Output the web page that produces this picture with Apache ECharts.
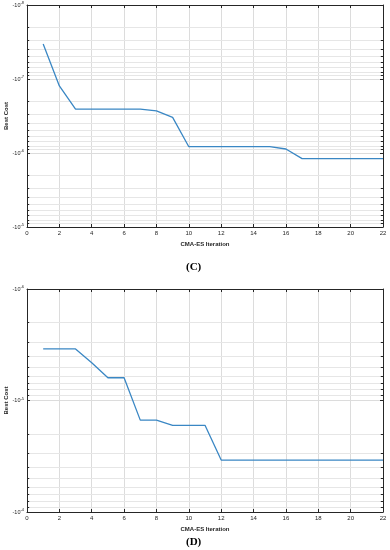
<!DOCTYPE html>
<html>
<head>
<meta charset="utf-8">
<script src="https://cdn.jsdelivr.net/npm/echarts@6/dist/echarts.min.js"></script>
<style>
html,body{margin:0;padding:0;background:#fff;}
#chart{width:390px;height:550px;}
</style>
</head>
<body>
<div id="chart"></div>
<script>
// ---- data ----
const iterations = [1,2,3,4,5,6,7,8,9,10,11,12,13,14,15,16,17,18,19,20,21,22];
// Best cost per iteration (negative values), panel C
const bestCostC = [-3.37e-8,-1.24e-7,-2.56e-7,-2.56e-7,-2.56e-7,-2.56e-7,-2.56e-7,-2.70e-7,-3.30e-7,-8.22e-7,-8.22e-7,-8.22e-7,-8.22e-7,-8.22e-7,-8.22e-7,-8.83e-7,-1.19e-6,-1.19e-6,-1.19e-6,-1.19e-6,-1.19e-6,-1.19e-6];
// Best cost per iteration (negative values), panel D
const bestCostD = [-3.45e-6,-3.45e-6,-3.45e-6,-4.58e-6,-6.25e-6,-6.25e-6,-1.50e-5,-1.50e-5,-1.67e-5,-1.67e-5,-1.67e-5,-3.42e-5,-3.42e-5,-3.42e-5,-3.42e-5,-3.42e-5,-3.42e-5,-3.42e-5,-3.42e-5,-3.42e-5,-3.42e-5,-3.42e-5];
const xTicks = [0,22,2];             // min, max, interval
const yRangeC = [1e-8, 1e-5];        // magnitude range, axis shows -10^k
const yRangeD = [1e-6, 1e-4];
const panelLabels = ['(C)', '(D)'];
const xName = 'CMA-ES Iteration';
const yName = 'Best Cost';

// ---- styles ----
const axisColor = '#262626';
const gridColor = '#dcdcdc';
const minorColor = '#e6e6e6';
const lineColor = '#3a87c4';
const font = 'Liberation Sans, Arial, sans-serif';

const grids = [
  {left: 27, top: 5, width: 356, height: 222},
  {left: 27, top: 289, width: 356, height: 223}
];

function minorValues(range) {
  const out = [];
  const e0 = Math.round(Math.log10(range[0])), e1 = Math.round(Math.log10(range[1]));
  for (let e = e0; e < e1; e++) for (let m = 2; m <= 9; m++) out.push(m * Math.pow(10, e));
  return out;
}

function yLabel(v) {
  const e = Math.round(Math.log10(v));
  return '-10{s|' + e + '}';
}

const xAxes = [], yAxes = [], series = [];
[yRangeC, yRangeD].forEach((yr, i) => {
  xAxes.push({
    type: 'value', gridIndex: i, min: xTicks[0], max: xTicks[1], interval: xTicks[2],
    name: xName, nameLocation: 'middle', nameGap: 14, nameMoveOverlap: false,
    nameTextStyle: {fontFamily: font, fontWeight: 'bold', fontSize: 6, color: axisColor},
    axisLine: {show: true, onZero: false, lineStyle: {color: axisColor, width: 1}},
    axisTick: {show: true, inside: true, length: 3, lineStyle: {color: axisColor}},
    axisLabel: {fontFamily: font, fontSize: 6, color: axisColor, margin: 3},
    splitLine: {show: true, lineStyle: {color: gridColor, width: 1}}
  });
  xAxes.push({
    type: 'value', gridIndex: i, position: 'top', min: xTicks[0], max: xTicks[1], interval: xTicks[2],
    axisLine: {show: true, onZero: false, lineStyle: {color: axisColor, width: 1}},
    axisTick: {show: true, inside: true, length: 3, lineStyle: {color: axisColor}},
    axisLabel: {show: false}, splitLine: {show: false}
  });
  yAxes.push({
    type: 'log', gridIndex: i, logBase: 10, min: yr[0], max: yr[1], inverse: true,
    name: yName, nameLocation: 'middle', nameGap: 18, nameRotate: 90, nameMoveOverlap: false,
    nameTextStyle: {fontFamily: font, fontWeight: 'bold', fontSize: 6, color: axisColor},
    axisLine: {show: true, onZero: false, lineStyle: {color: axisColor, width: 1}},
    axisTick: {show: true, inside: true, length: 3, lineStyle: {color: axisColor}},
    axisLabel: {
      fontFamily: font, fontSize: 5.5, color: axisColor, margin: 3,
      formatter: yLabel,
      rich: {s: {fontSize: 4, fontFamily: font, color: axisColor, padding: [0, 0, 4, 0]}}
    },
    splitLine: {show: true, lineStyle: {color: gridColor, width: 1}}
  });
  yAxes.push({
    type: 'log', gridIndex: i, position: 'right', logBase: 10, min: yr[0], max: yr[1], inverse: true,
    axisLine: {show: true, onZero: false, lineStyle: {color: axisColor, width: 1}},
    axisTick: {show: true, inside: true, length: 3, lineStyle: {color: axisColor}},
    axisLabel: {show: false}, splitLine: {show: false}
  });

  const mins = minorValues(yr);
  const minorLines = mins.map(v => [{coord: [xTicks[0], v]}, {coord: [xTicks[1], v]}]);
  const tickLen = 2.2 * (xTicks[1] - xTicks[0]) / grids[i].width;
  const minorTicks = [];
  mins.forEach(v => {
    minorTicks.push([{coord: [xTicks[0], v]}, {coord: [xTicks[0] + tickLen, v]}]);
    minorTicks.push([{coord: [xTicks[1] - tickLen, v]}, {coord: [xTicks[1], v]}]);
  });

  // minor grid
  series.push({
    type: 'line', xAxisIndex: 2 * i, yAxisIndex: 2 * i, data: [], silent: true, z: 1,
    markLine: {silent: true, symbol: ['none', 'none'], label: {show: false}, z: 1,
      lineStyle: {color: minorColor, width: 1, type: 'solid'}, data: minorLines, animation: false}
  });
  // minor ticks
  series.push({
    type: 'line', xAxisIndex: 2 * i, yAxisIndex: 2 * i, data: [], silent: true, z: 5,
    markLine: {silent: true, symbol: ['none', 'none'], label: {show: false},
      lineStyle: {color: axisColor, width: 1, type: 'solid'}, data: minorTicks, animation: false}
  });
  const vals = i === 0 ? bestCostC : bestCostD;
  series.push({
    type: 'line', xAxisIndex: 2 * i, yAxisIndex: 2 * i, z: 10,
    data: iterations.map((x, k) => [x, -vals[k]]),
    showSymbol: false, symbol: 'none',
    lineStyle: {color: lineColor, width: 1.3}
  });
});

const chart = echarts.init(document.getElementById('chart'), null, {renderer: 'canvas'});
chart.setOption({
  animation: false,
  backgroundColor: '#fff',
  grid: grids.map(g => Object.assign({containLabel: false, outerBoundsMode: 'none', show: false}, g)),
  xAxis: xAxes,
  yAxis: yAxes,
  series: series,
  graphic: [
    {type: 'text', left: 186, top: 262, style: {text: panelLabels[0], fontFamily: 'Liberation Serif, Times New Roman, serif', fontSize: 11, fontWeight: 'bold', fill: '#000'}},
    {type: 'text', left: 186, top: 537, style: {text: panelLabels[1], fontFamily: 'Liberation Serif, Times New Roman, serif', fontSize: 11, fontWeight: 'bold', fill: '#000'}}
  ]
});
</script>
</body>
</html>
